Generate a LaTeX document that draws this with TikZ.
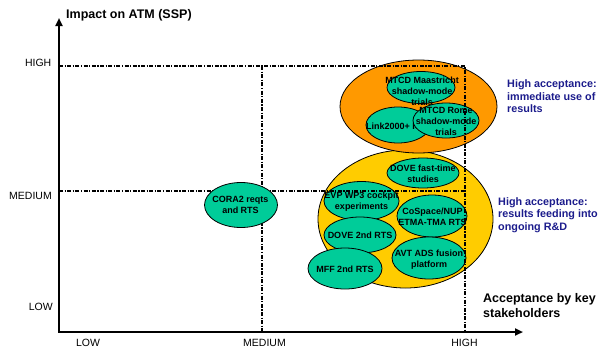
\documentclass[tikz,border=0pt]{standalone}
\usepackage{fontspec}
\setmainfont{Liberation Sans}
\usetikzlibrary{arrows.meta}
\definecolor{bubblefill}{HTML}{00CC99}
\definecolor{orangefill}{HTML}{FF9900}
\definecolor{yellowfill}{HTML}{FFCC00}
\definecolor{notecolor}{RGB}{28,28,140}
\tikzset{
  bubble/.style={draw=black, line width=0.8pt, fill=bubblefill},
  zone/.style={draw=black, line width=0.8pt},
  bubbletext/.style={font=\fontsize{9}{11}\selectfont\bfseries, align=center, inner sep=0pt},
  gridline/.style={line width=1.2pt, dash pattern=on 4pt off 1.5pt on 1.2pt off 1.5pt},
  axisline/.style={line width=2.6pt, line join=miter,
    {Triangle[width=7pt,length=8pt]}-{Triangle[width=7pt,length=8pt]}},
  ticklabel/.style={font=\fontsize{10.5}{12}\selectfont, inner sep=0pt},
  axistitle/.style={font=\fontsize{12.5}{15}\selectfont\bfseries, align=left, inner sep=0pt},
  note/.style={font=\fontsize{10.8}{12.6}\selectfont\bfseries, text=notecolor, align=left, inner sep=0pt}
}
\begin{document}
\begin{tikzpicture}[x=1pt,y=-1pt]
\useasboundingbox (0,0) rectangle (599,351);

% acceptance zones
\fill[yellowfill, zone] (405.5,219) ellipse [x radius=87.5pt, y radius=69pt];
\fill[orangefill, zone] (418.5,106.5) ellipse [x radius=78.5pt, y radius=46.5pt];

% projects with immediate use of results (stacked, later ones hide earlier ones)
\draw[bubble] (421,87.5) ellipse [x radius=34pt, y radius=16pt];
\node[bubbletext] (maastricht) at (422,91) {MTCD Maastricht\\shadow-mode\\trials};
\draw[bubble] (398,125) ellipse [x radius=32pt, y radius=18pt];
\node[bubbletext, anchor=west] (link) at (366,126) {Link2000+ I};
\draw[bubble] (446,120.5) ellipse [x radius=33pt, y radius=17.5pt];

% projects feeding ongoing R&D
\draw[bubble] (423,173) ellipse [x radius=36pt, y radius=15pt];
\draw[bubble] (361.5,201) ellipse [x radius=37.5pt, y radius=19.5pt];
\draw[bubble] (432,216) ellipse [x radius=35pt, y radius=21pt];
\draw[bubble] (360,235) ellipse [x radius=36pt, y radius=18pt];
\draw[bubble] (429,258) ellipse [x radius=37pt, y radius=21pt];
\draw[bubble] (345,268.5) ellipse [x radius=37pt, y radius=20.5pt];

% axes
\coordinate (origin) at (59,332);
\coordinate (ytip) at (59,18);
\coordinate (xtip) at (523,332);
\draw[axisline] (ytip) -- (origin) -- (xtip);

% level grid
\coordinate (yhigh) at (59,66);
\coordinate (ymed) at (59,191);
\coordinate (hh) at (465,66);
\coordinate (hm) at (465,191);
\coordinate (hb) at (465,332);
\coordinate (mh) at (262,66);
\coordinate (mb) at (262,332);
\draw[gridline] (yhigh) -- (hh) -- (hb);
\draw[gridline] (ymed) -- (hm);
\draw[gridline] (mh) -- (mb);

% project labels
\node[bubbletext] (rome) at (446,121) {MTCD Rome\\shadow-mode\\trials};
\node[bubbletext] (dovefast) at (423,173.5) {DOVE fast-time\\studies};
\node[bubbletext] (evp) at (361.5,202) {EVP WP3 cockpit\\experiments};
\node[bubbletext] (cospace) at (432.5,217) {CoSpace/NUP\\ETMA-TMA RTS};
\node[bubbletext] (dove2) at (360,235.5) {DOVE 2nd RTS};
\node[bubbletext] (avt) at (429,259.5) {AVT ADS fusion\\platform};
\node[bubbletext] (mff) at (345,269) {MFF 2nd RTS};

% isolated project
\draw[bubble] (241,205) ellipse [x radius=36.5pt, y radius=22.5pt];
\node[bubbletext] (cora) at (240.5,205) {CORA2 reqts\\and RTS};

% axis titles and levels
\node[axistitle, anchor=west] (ytitle) at (66,15) {Impact on ATM (SSP)};
\node[axistitle, anchor=west] (xtitle) at (483,305.5) {Acceptance by key\\stakeholders};
\node[ticklabel, anchor=east] (yhighlbl) at (51.5,63) {HIGH};
\node[ticklabel, anchor=east] (ymedlbl) at (52,196) {MEDIUM};
\node[ticklabel, anchor=east] (ylowlbl) at (53,307) {LOW};
\node[ticklabel] (xlowlbl) at (88,343) {LOW};
\node[ticklabel] (xmedlbl) at (264.5,343) {MEDIUM};
\node[ticklabel] (xhighlbl) at (464.5,343) {HIGH};

% zone notes
\node[note, anchor=west] (note1) at (507,96.5) {High acceptance:\\immediate use of\\results};
\node[note, anchor=west] (note2) at (498,215) {High acceptance:\\results feeding into\\ongoing R\&D};
\end{tikzpicture}
\end{document}
